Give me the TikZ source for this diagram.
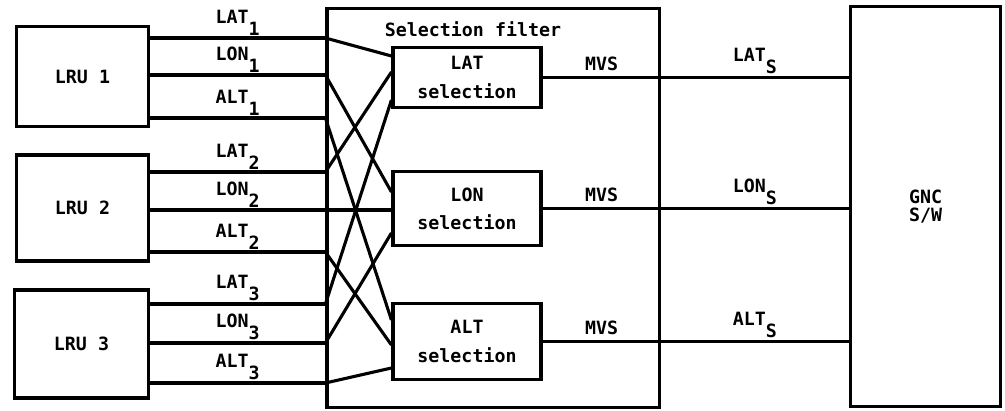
\documentclass[tikz,border=0pt]{standalone}
\usepackage{fontspec}
\setmonofont{DejaVu Sans Mono}
\usetikzlibrary{positioning,calc}
\newcommand{\idx}[1]{\raisebox{-1.2ex}{#1}}

\begin{document}
\begin{tikzpicture}[x=0.025cm, y=-0.025cm,
    font=\ttfamily\bfseries\fontsize{13}{20}\selectfont,
    box/.style={draw, line width=2.2pt, align=center, inner sep=0pt},
    sig/.style={line width=2.2pt},
    outl/.style={line width=1.6pt}]
  \useasboundingbox (0,0) rectangle (1005,411);

  % line replaceable units
  \node[box, minimum width=3.28cm, minimum height=2.48cm] (lru1) at (82.5,76.5) {LRU 1};
  \node[box, minimum width=3.28cm, minimum height=2.65cm] (lru2) at (82.5,208) {LRU 2};
  \node[box, minimum width=3.33cm, minimum height=2.7cm]  (lru3) at (81.5,344) {LRU 3};

  % selection filter with its three voters
  \node[box, minimum width=8.3cm, minimum height=9.95cm] (filter) at (493,208) {};
  \node (title) at (473,29) {Selection filter};
  \node[box, minimum width=3.7cm, minimum height=1.48cm] (latsel) at (467,77.5)  {LAT\\selection};
  \node[box, minimum width=3.7cm, minimum height=1.83cm] (lonsel) at (467,208.5) {LON\\selection};
  \node[box, minimum width=3.7cm, minimum height=1.88cm] (altsel) at (467,341.5) {ALT\\selection};

  % guidance software
  \node[box, minimum width=3.73cm, minimum height=9.98cm,
        font=\ttfamily\bfseries\fontsize{13}{13}\selectfont] (gnc) at (925.5,206.5) {GNC\\S/W};

  % sensor outputs, then cross wiring to the voters
  \foreach \q/\n/\y/\s/\t in {LAT/1/38/lat/56, LON/1/75/lon/192, ALT/1/118/alt/320,
                              LAT/2/172/lat/72, LON/2/210/lon/210, ALT/2/252/alt/345,
                              LAT/3/304/lat/100, LON/3/343/lon/233, ALT/3/383/alt/368}{
    \draw[sig] (lru\n.east |- 0,\y)
      -- node[above=0pt, inner sep=1pt] {\q\idx{\n}} (filter.west |- 0,\y) coordinate (in-\q\n);
    \draw[sig] (in-\q\n) -- (\s sel.west |- 0,\t);
  }

  % selected values
  \foreach \s/\q in {lat/LAT, lon/LON, alt/ALT}{
    \draw[outl] (\s sel) -- node[above=3pt, inner sep=1pt] {MVS} (filter.east |- \s sel)
      -- node[above=1pt, inner sep=1pt] {\q\idx{S}} (gnc.west |- \s sel);
  }
\end{tikzpicture}
\end{document}
